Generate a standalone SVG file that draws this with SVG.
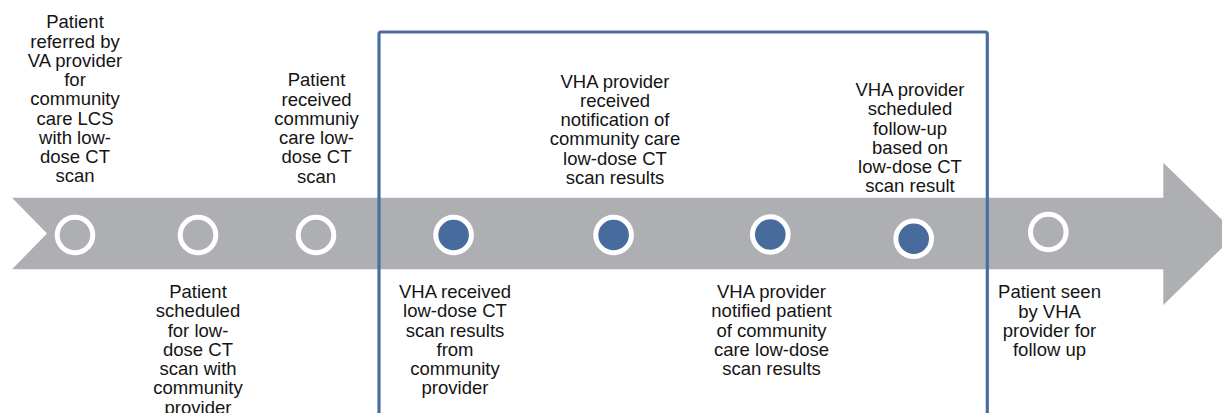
<svg xmlns="http://www.w3.org/2000/svg" width="1222" height="413" viewBox="0 0 1222 413">
<style>
.lbl{font-family:"Liberation Sans",Arial,sans-serif;font-size:18.5px;fill:#141414;text-anchor:middle}
.open{fill:none;stroke:#ffffff;stroke-width:5}
.done{fill:#486B9E;stroke:#ffffff;stroke-width:5}
</style>
<rect width="1222" height="413" fill="#ffffff"/>
<g id="timeline">
<polygon points="12,197.7 1163.3,197.7 1163.3,162.7 1236.5,233.8 1163.3,305 1163.3,269.3 12,269.3 47,233.5" fill="#AEAFB3"/>
</g>
<g id="highlight-box">
<rect x="379" y="32" width="608.3" height="400" rx="2" fill="none" stroke="#4B6DA2" stroke-width="3.2"/>
</g>
<g id="connectors"></g>
<g id="n1">
<circle class="open" cx="75" cy="235" r="17.8"/>
<text class="lbl" x="75" y="28.3"><tspan x="75">Patient</tspan><tspan x="75" dy="19.25">referred by</tspan><tspan x="75" dy="19.25">VA provider</tspan><tspan x="75" dy="19.25">for</tspan><tspan x="75" dy="19.25">community</tspan><tspan x="75" dy="19.25">care LCS</tspan><tspan x="75" dy="19.25">with low-</tspan><tspan x="75" dy="19.25">dose CT</tspan><tspan x="75" dy="19.25">scan</tspan></text>
</g>
<g id="n2">
<circle class="open" cx="198" cy="235" r="17.8"/>
<text class="lbl" x="198" y="298"><tspan x="198">Patient</tspan><tspan x="198" dy="19.25">scheduled</tspan><tspan x="198" dy="19.25">for low-</tspan><tspan x="198" dy="19.25">dose CT</tspan><tspan x="198" dy="19.25">scan with</tspan><tspan x="198" dy="19.25">community</tspan><tspan x="198" dy="19.25">provider</tspan></text>
</g>
<g id="n3">
<circle class="open" cx="316" cy="235" r="17.8"/>
<text class="lbl" x="316.5" y="86.3"><tspan x="316.5">Patient</tspan><tspan x="316.5" dy="19.25">received</tspan><tspan x="316.5" dy="19.25">communiy</tspan><tspan x="316.5" dy="19.25">care low-</tspan><tspan x="316.5" dy="19.25">dose CT</tspan><tspan x="316.5" dy="19.25">scan</tspan></text>
</g>
<g id="n4">
<circle class="done" cx="453.6" cy="235" r="17.8"/>
<text class="lbl" x="455" y="298"><tspan x="455">VHA received</tspan><tspan x="455" dy="19.25">low-dose CT</tspan><tspan x="455" dy="19.25">scan results</tspan><tspan x="455" dy="19.25">from</tspan><tspan x="455" dy="19.25">community</tspan><tspan x="455" dy="19.25">provider</tspan></text>
</g>
<g id="n5">
<circle class="done" cx="613.6" cy="235" r="17.8"/>
<text class="lbl" x="615" y="87.5"><tspan x="615">VHA provider</tspan><tspan x="615" dy="19.25">received</tspan><tspan x="615" dy="19.25">notification of</tspan><tspan x="615" dy="19.25">community care</tspan><tspan x="615" dy="19.25">low-dose CT</tspan><tspan x="615" dy="19.25">scan results</tspan></text>
</g>
<g id="n6">
<circle class="done" cx="770.3" cy="234.5" r="17.8"/>
<text class="lbl" x="771.5" y="298"><tspan x="771.5">VHA provider</tspan><tspan x="771.5" dy="19.25">notified patient</tspan><tspan x="771.5" dy="19.25">of community</tspan><tspan x="771.5" dy="19.25">care low-dose</tspan><tspan x="771.5" dy="19.25">scan results</tspan></text>
</g>
<g id="n7">
<circle class="done" cx="913.7" cy="238.8" r="17.8"/>
<text class="lbl" x="910" y="96" ><tspan x="910">VHA provider</tspan><tspan x="910" dy="19.25">scheduled</tspan><tspan x="910" dy="19.25">follow-up</tspan><tspan x="910" dy="19.25">based on</tspan><tspan x="910" dy="19.25">low-dose CT</tspan><tspan x="910" dy="19.25">scan result</tspan></text>
</g>
<g id="n8">
<circle class="open" cx="1048.3" cy="232" r="17.8"/>
<text class="lbl" x="1049.5" y="298.3"><tspan x="1049.5">Patient seen</tspan><tspan x="1049.5" dy="19.25">by VHA</tspan><tspan x="1049.5" dy="19.25">provider for</tspan><tspan x="1049.5" dy="19.25">follow up</tspan></text>
</g>
</svg>
